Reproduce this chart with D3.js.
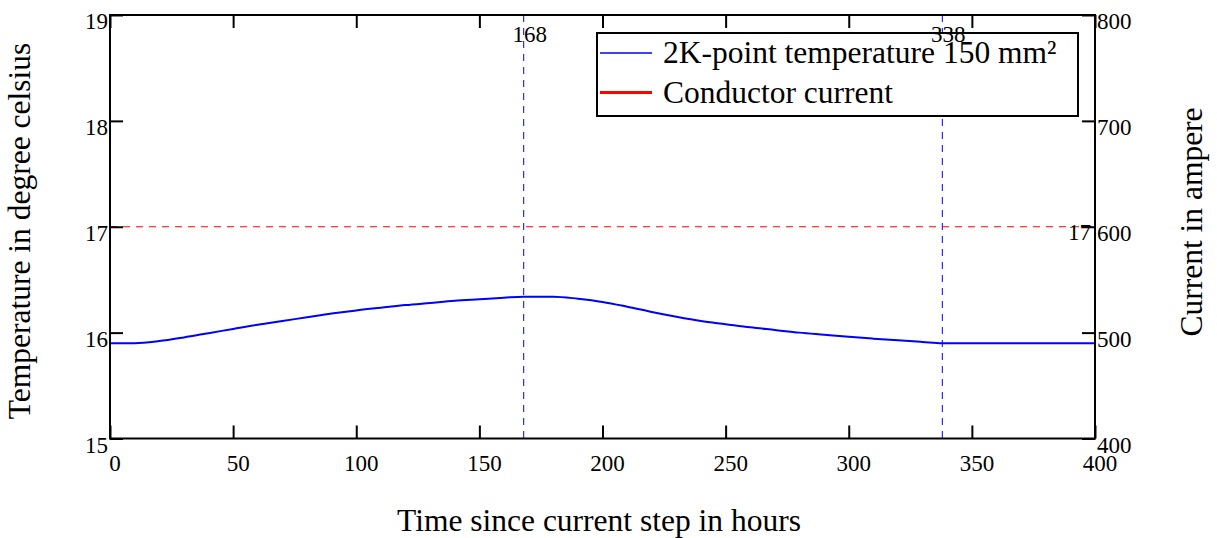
<!DOCTYPE html>
<html>
<head>
<meta charset="utf-8">
<script src="https://cdn.jsdelivr.net/npm/d3@7"></script>
<style>
  body { margin: 0; background: white; }
  svg text { font-family: "Liberation Serif", "Times New Roman", serif; fill: black; }
</style>
</head>
<body>
<svg></svg>
<script>
// Data
const hours = [0, 10, 20, 30, 40, 50, 60, 70, 80, 90, 100, 110, 120, 130, 140, 150, 160, 168, 180, 190, 200, 210, 220, 230, 240, 250, 260, 270, 280, 290, 300, 310, 320, 330, 338, 360, 400];
const tempValues = [15.90, 15.90, 15.92, 15.955, 15.995, 16.035, 16.075, 16.11, 16.145, 16.18, 16.21, 16.235, 16.26, 16.28, 16.30, 16.315, 16.33, 16.34, 16.34, 16.32, 16.29, 16.245, 16.195, 16.15, 16.11, 16.08, 16.05, 16.025, 16.00, 15.98, 15.96, 15.943, 15.927, 15.912, 15.90, 15.90, 15.90];
const xTicks = [0, 50, 100, 150, 200, 250, 300, 350, 400];
const yTicks = [15, 16, 17, 18, 19];
const y2Ticks = [400, 500, 600, 700, 800];
const markerHours = [168, 338];
const markerTemp = [17];
const legendItems = ["2K-point temperature 150 mm²", "Conductor current"];

const width = 1217, height = 538;
const margin = { top: 15, right: 122, bottom: 99.5, left: 110 };

const svg = d3.select("svg")
    .attr("width", width)
    .attr("height", height);

const x = d3.scaleLinear().domain([0, 400]).range([margin.left, width - margin.right]);
const y = d3.scaleLinear().domain([15, 19]).range([height - margin.bottom, margin.top]);
const y2 = d3.scaleLinear().domain([400, 800]).range([height - margin.bottom, margin.top]);

// Marker lines
svg.selectAll(".vmark")
    .data(markerHours)
    .enter().append("line")
    .attr("x1", d => x(d)).attr("x2", d => x(d))
    .attr("y1", y(19)).attr("y2", y(15))
    .attr("stroke", "#0000ff")
    .attr("stroke-width", 1)
    .attr("stroke-dasharray", "7,6");

svg.selectAll(".hmark")
    .data(markerTemp)
    .enter().append("line")
    .attr("x1", x(0)).attr("x2", x(400))
    .attr("y1", d => y(d)).attr("y2", d => y(d))
    .attr("stroke", "#ff0000")
    .attr("stroke-width", 1)
    .attr("stroke-dasharray", "7,6");

// Temperature curve
const line = d3.line()
    .x((d, i) => x(hours[i]))
    .y(d => y(d))
    .curve(d3.curveMonotoneX);

svg.append("path")
    .datum(tempValues)
    .attr("fill", "none")
    .attr("stroke", "#0000ff")
    .attr("stroke-width", 2)
    .attr("d", line);

// Axes with inward ticks
const tickLen = 13;
const fs = 23;

svg.append("g")
    .attr("transform", `translate(0,${y(15)})`)
    .call(d3.axisBottom(x).tickValues(xTicks).tickSize(-tickLen).tickFormat(""))
    .call(g => g.select(".domain").remove())
    .call(g => g.selectAll("line").attr("stroke-width", 2));

svg.append("g")
    .attr("transform", `translate(0,${y(19)})`)
    .call(d3.axisTop(x).tickValues(xTicks).tickSize(-tickLen).tickFormat(""))
    .call(g => g.select(".domain").remove())
    .call(g => g.selectAll("line").attr("stroke-width", 2));

svg.append("g")
    .attr("transform", `translate(${x(0)},0)`)
    .call(d3.axisLeft(y).tickValues(yTicks).tickSize(-tickLen).tickFormat(""))
    .call(g => g.select(".domain").remove())
    .call(g => g.selectAll("line").attr("stroke-width", 2));

svg.append("g")
    .attr("transform", `translate(${x(400)},0)`)
    .call(d3.axisRight(y2).tickValues(y2Ticks).tickSize(-tickLen).tickFormat(""))
    .call(g => g.select(".domain").remove())
    .call(g => g.selectAll("line").attr("stroke-width", 2));

// Frame
svg.append("rect")
    .attr("x", x(0)).attr("y", y(19))
    .attr("width", x(400) - x(0)).attr("height", y(15) - y(19))
    .attr("fill", "none")
    .attr("stroke", "black")
    .attr("stroke-width", 2);

// Tick labels
svg.selectAll(".xlab")
    .data(xTicks)
    .enter().append("text")
    .attr("x", d => x(d) + 5)
    .attr("y", y(15) + 32)
    .attr("text-anchor", "middle")
    .style("font-size", fs + "px")
    .text(d => d);

svg.selectAll(".ylab")
    .data(yTicks)
    .enter().append("text")
    .attr("x", x(0) - 2)
    .attr("y", d => y(d) + 14)
    .attr("text-anchor", "end")
    .style("font-size", fs + "px")
    .text(d => d);

svg.selectAll(".y2lab")
    .data(y2Ticks)
    .enter().append("text")
    .attr("x", x(400) + 2)
    .attr("y", d => y2(d) + 14)
    .attr("text-anchor", "start")
    .style("font-size", fs + "px")
    .text(d => d);

// Axis titles
const titleSize = 31.5;
svg.append("text")
    .attr("x", 599)
    .attr("y", 531)
    .attr("text-anchor", "middle")
    .style("font-size", titleSize + "px")
    .text("Time since current step in hours");

svg.append("text")
    .attr("transform", "rotate(-90)")
    .attr("x", -231)
    .attr("y", 30)
    .attr("text-anchor", "middle")
    .style("font-size", titleSize + "px")
    .text("Temperature in degree celsius");

svg.append("text")
    .attr("transform", "rotate(-90)")
    .attr("x", -222)
    .attr("y", 1202)
    .attr("text-anchor", "middle")
    .style("font-size", titleSize + "px")
    .text("Current in ampere");

// Legend
const legend = svg.append("g");
legend.append("rect")
    .attr("x", 597).attr("y", 33)
    .attr("width", 481).attr("height", 83)
    .attr("fill", "white")
    .attr("stroke", "black")
    .attr("stroke-width", 2);

const legendColors = ["#0000ff", "#ff0000"];
const legendWidths = [1.5, 3];
legendItems.forEach((label, i) => {
    const ly = 53 + i * 39.5;
    legend.append("line")
        .attr("x1", 600).attr("x2", 652)
        .attr("y1", ly).attr("y2", ly)
        .attr("stroke", legendColors[i])
        .attr("stroke-width", legendWidths[i]);
    legend.append("text")
        .attr("x", 663)
        .attr("y", ly + 10)
        .style("font-size", titleSize + "px")
        .text(label);
});

// Marker labels (drawn on top of the legend, as in the reference)
svg.selectAll(".vmlab")
    .data(markerHours)
    .enter().append("text")
    .attr("x", d => x(d) + 6)
    .attr("y", y(19) + 27)
    .attr("text-anchor", "middle")
    .style("font-size", fs + "px")
    .text(d => d);

svg.selectAll(".hmlab")
    .data(markerTemp)
    .enter().append("text")
    .attr("x", x(400) - 4)
    .attr("y", d => y(d) + 13)
    .attr("text-anchor", "end")
    .style("font-size", fs + "px")
    .text(d => d);
</script>
</body>
</html>
